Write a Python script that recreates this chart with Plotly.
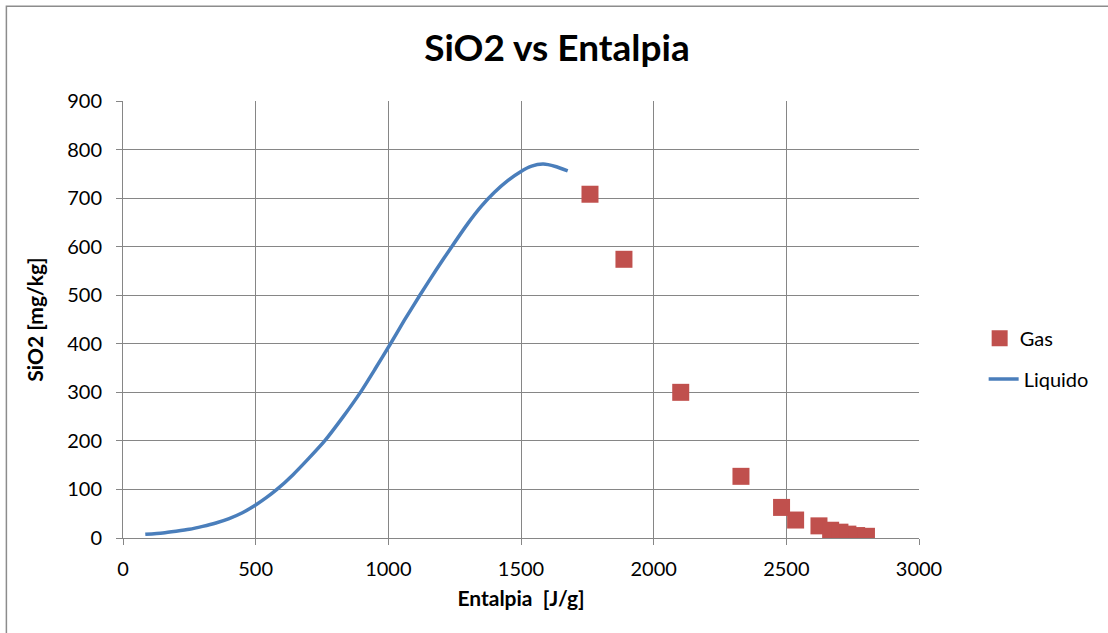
import plotly.graph_objects as go

# Liquido curve (Entalpia J/g vs SiO2 mg/kg)
liq_x = [84, 150, 200, 250, 300, 350, 400, 450, 500, 540, 580, 640, 700, 760, 830, 896,
         950, 1007, 1060, 1120, 1180, 1239, 1300, 1350, 1400, 1450, 1500, 1540, 1584, 1630, 1676]
liq_y = [7.6, 10.5, 14, 18, 24, 31, 40, 52, 68, 83, 100, 130, 164, 200, 250, 301,
         348, 399, 448, 501, 552, 600, 648, 683, 712, 736, 755, 766, 770, 765, 756]

# Gas points
gas_x = [1760, 1888, 2102, 2329, 2482, 2535, 2623, 2667, 2702, 2732, 2765, 2802]
gas_y = [708, 574, 300, 127, 63, 37, 25, 16, 12, 8, 5, 3.5]

x_ticks = [0, 500, 1000, 1500, 2000, 2500, 3000]
y_ticks = [0, 100, 200, 300, 400, 500, 600, 700, 800, 900]

FONT = "Lato"
GRID = "#868686"

fig = go.Figure()
fig.add_trace(go.Scatter(
    x=gas_x, y=gas_y, mode="markers", name="Gas",
    marker=dict(symbol="square", size=17, color="#C0504D",
                line=dict(color="#C0504D", width=0)),
    legend="legend",
))
fig.add_trace(go.Scatter(
    x=liq_x, y=liq_y, mode="lines", name="Liquido",
    line=dict(color="#4A7EBB", width=3.5, shape="spline", smoothing=0.6),
    legend="legend2",
))

L, R, T, B = 122.7, 1108 - 919.3, 100.7, 633 - 538
W, H = 1108, 633
pw, ph = W - L - R, H - T - B

fig.update_layout(
    width=W, height=H,
    margin=dict(l=L, r=R, t=T, b=B, pad=0),
    paper_bgcolor="white", plot_bgcolor="white",
    font=dict(family=FONT, color="#000000", size=20),
    title=dict(text="<b>SiO2 vs Entalpia</b>", x=557 / W, xanchor="center",
               y=1 - 48 / H, yanchor="middle", yref="container",
               font=dict(family=FONT, size=37, color="#000000")),
    showlegend=True,
    legend=dict(x=(980 - L) / pw, y=(538 - 338) / ph, xanchor="left", yanchor="middle",
                font=dict(family=FONT, size=20), bgcolor="rgba(0,0,0,0)", borderwidth=0),
    legend2=dict(x=(984 - L) / pw, y=(538 - 379) / ph, xanchor="left", yanchor="middle",
                 font=dict(family=FONT, size=20), bgcolor="rgba(0,0,0,0)", borderwidth=0),
    shapes=[dict(type="rect", xref="paper", yref="paper",
                 x0=(6 - L) / pw, x1=(1140 - L) / pw,
                 y0=(538 - 660) / ph, y1=(538 - 6) / ph,
                 line=dict(color="#8C8C8C", width=1.5), fillcolor="rgba(0,0,0,0)",
                 layer="below")],
)

fig.update_xaxes(
    range=[0, 3000], tickvals=x_ticks, ticktext=[str(v) for v in x_ticks],
    showgrid=True, gridcolor=GRID, gridwidth=1,
    showline=True, linecolor=GRID, linewidth=1,
    ticks="outside", ticklen=6, tickcolor=GRID,
    tickfont=dict(family=FONT, size=20, color="#000000"),
    ticklabelstandoff=7,
    zeroline=False,
    title=dict(text="<b>Entalpia  [J/g]</b>", font=dict(family=FONT, size=21), standoff=12),
)
fig.update_yaxes(
    range=[0, 900], tickvals=y_ticks, ticktext=[str(v) for v in y_ticks],
    showgrid=True, gridcolor=GRID, gridwidth=1,
    showline=True, linecolor=GRID, linewidth=1,
    ticks="outside", ticklen=6, tickcolor=GRID,
    tickfont=dict(family=FONT, size=20, color="#000000"),
    ticklabelstandoff=10,
    zeroline=False,
    title=dict(text="<b>SiO2 [mg/kg]</b>", font=dict(family=FONT, size=21), standoff=17),
)

fig.write_html("out.html")
